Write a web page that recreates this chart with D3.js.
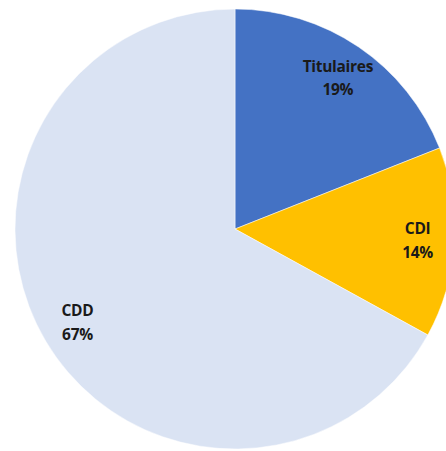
<!DOCTYPE html>
<html><head><meta charset="utf-8">
<script src="https://cdn.jsdelivr.net/npm/d3@7"></script>
<style>html,body{margin:0;padding:0;background:#fff;overflow:hidden}</style>
</head><body>
<svg id="c" width="446" height="451"></svg>
<script>
const categories = ["Titulaires", "CDI", "CDD"];
const values = [19, 14, 67];
const labels = ["19%", "14%", "67%"];
const colors = ["#4472C4", "#FFC000", "#DAE3F3"];

const svg = d3.select("#c");
const cx = 235, cy = 229, R = 220;
const g = svg.append("g").attr("transform", `translate(${cx},${cy})`);
const pie = d3.pie().sort(null).value(d => d.v);
const data = categories.map((c, i) => ({c, v: values[i], l: labels[i], col: colors[i]}));
const arcs = pie(data);
const arc = d3.arc().innerRadius(0).outerRadius(R);
const lab = d3.arc().innerRadius(183).outerRadius(183);

g.selectAll("path").data(arcs).join("path")
  .attr("d", arc).attr("fill", d => d.data.col)
  .attr("stroke", "#fff").attr("stroke-width", 0.5);

const t = g.selectAll("text").data(arcs).join("text")
  .attr("transform", d => `translate(${lab.centroid(d)})`)
  .attr("text-anchor", "middle")
  .style("font-family", "'Open Sans', sans-serif")
  .style("font-weight", "bold")
  .style("font-size", "15.5px")
  .style("letter-spacing", "-0.3px")
  .attr("fill", "#1a1a1a");
t.append("tspan").attr("x", 0).attr("dy", -6).text(d => d.data.c);
t.append("tspan").attr("x", 0).attr("dy", 23.5).text(d => d.data.l);
</script>
</body></html>
